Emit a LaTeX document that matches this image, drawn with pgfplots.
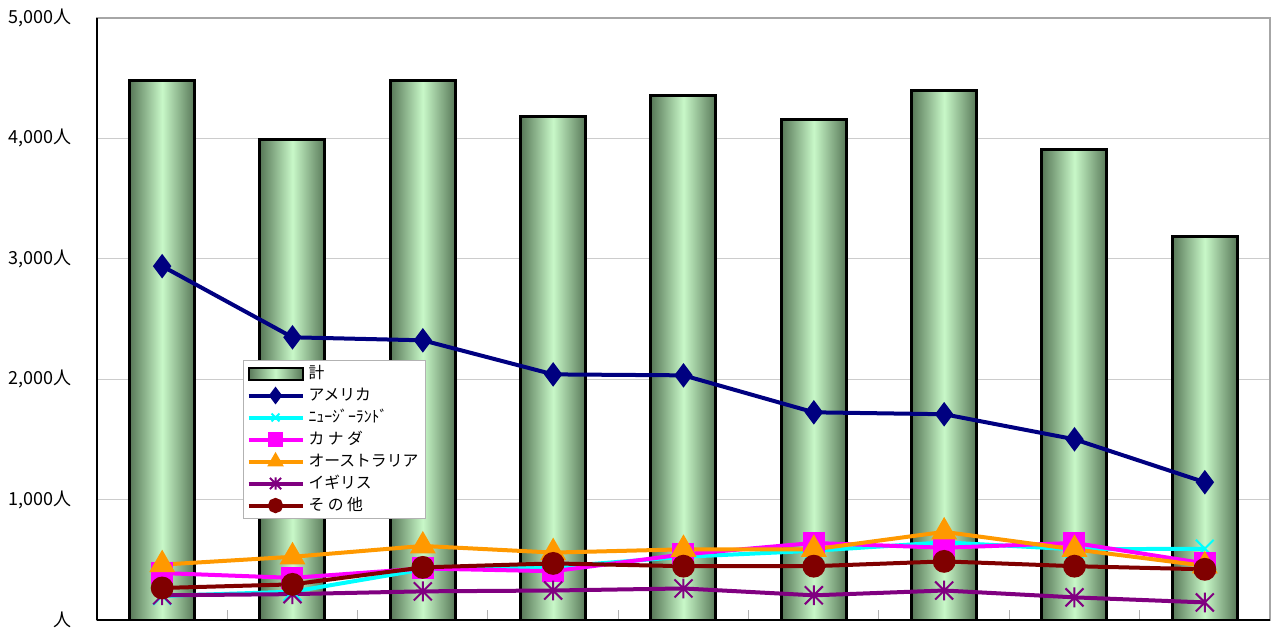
\documentclass[border=0pt]{standalone}
\usepackage{fontspec}
\setmainfont{Noto Sans CJK JP}
\usepackage{pgfplots}
\pgfplotsset{compat=1.18}
\definecolor{bedge}{HTML}{587858}
\definecolor{bmid}{HTML}{C8F8C8}
\definecolor{cnavy}{HTML}{000080}
\definecolor{ccyan}{HTML}{00FFFF}
\definecolor{cmag}{HTML}{FF00FF}
\definecolor{corange}{HTML}{FF9900}
\definecolor{cpurple}{HTML}{800080}
\definecolor{cdred}{HTML}{800000}
\pgfdeclareplotmark{xast}{%
  \pgfpathmoveto{\pgfqpoint{-\pgfplotmarksize}{-\pgfplotmarksize}}%
  \pgfpathlineto{\pgfqpoint{\pgfplotmarksize}{\pgfplotmarksize}}%
  \pgfpathmoveto{\pgfqpoint{-\pgfplotmarksize}{\pgfplotmarksize}}%
  \pgfpathlineto{\pgfqpoint{\pgfplotmarksize}{-\pgfplotmarksize}}%
  \pgfpathmoveto{\pgfqpoint{0pt}{-1.1\pgfplotmarksize}}%
  \pgfpathlineto{\pgfqpoint{0pt}{1.1\pgfplotmarksize}}%
  \pgfusepathqstroke}
\pgfplotsset{
  gbar/.style={ybar, bar width=32.5pt, bar shift=0pt, draw=black, line width=1.5pt,
    left color=bedge, right color=bedge, middle color=bmid},
}
\begin{document}
\begin{tikzpicture}
\useasboundingbox (-48.5pt,-4pt) rectangle (588.5pt,310pt);
\clip (-48.5pt,-4pt) rectangle (588.5pt,310pt);
\begin{axis}[
  scale only axis, width=586.5pt, height=301pt,
  xmin=-0.5, xmax=8.5, ymin=0, ymax=5000,
  xtick={0.5,1.5,...,7.5}, xticklabels={}, xtick pos=bottom,
  tick align=inside, major tick length=5pt,
  xtick style={draw=gray!60, line width=0.5pt},
  ytick={0,1000,2000,3000,4000,5000},
  yticklabels={人,{1,000人},{2,000人},{3,000人},{4,000人},{5,000人}},
  ytick style={draw=none},
  yticklabel style={font=\fontsize{9pt}{11pt}\selectfont, anchor=east, xshift=-9pt},
  ymajorgrids, grid style={draw=gray!40, line width=0.6pt},
  axis line style={draw=gray!70, line width=0.6pt},
  legend style={at={(0.1245,0.432)}, anchor=north west, draw=gray!60, line width=0.5pt,
    font=\fontsize{7.9pt}{9pt}\selectfont, row sep=0.9pt, inner sep=1.5pt,
    nodes={inner ysep=1pt, text height=6.6pt, text depth=1.5pt},
    /tikz/every even column/.append style={column sep=1pt}},
  legend cell align=left,
  legend image code/.code={\draw[mark repeat=2,mark phase=2] plot coordinates {(0pt,0pt) (13.5pt,0pt) (27pt,0pt)};},
  legend image post style={mark size=2.8pt},
  every axis plot/.append style={line width=2pt},
  after end axis/.code={
    \draw[black, line width=1pt] (rel axis cs:0,0) -- (rel axis cs:0,1);
    \draw[black, line width=1pt] (rel axis cs:0,0) -- (rel axis cs:1,0);
  },
]
\addplot[gbar,
  legend image code/.code={\draw[left color=bedge, right color=bedge, middle color=bmid, draw=black, line width=1pt] (0pt,-3pt) rectangle (27pt,3pt);}]
  coordinates {(0,4485)};
\addlegendentry{計}
\addplot[gbar, forget plot] coordinates {(1,3995)};
\addplot[gbar, forget plot] coordinates {(2,4477)};
\addplot[gbar, forget plot] coordinates {(3,4186)};
\addplot[gbar, forget plot] coordinates {(4,4360)};
\addplot[gbar, forget plot] coordinates {(5,4161)};
\addplot[gbar, forget plot] coordinates {(6,4402)};
\addplot[gbar, forget plot] coordinates {(7,3911)};
\addplot[gbar, forget plot] coordinates {(8,3189)};
\addplot[cnavy, mark=diamond*, mark size=4.5pt, mark options={solid}]
  coordinates {(0,2939) (1,2348) (2,2323) (3,2040) (4,2032) (5,1725) (6,1709) (7,1501) (8,1144)};
\addlegendentry{アメリカ}
\addplot[ccyan, mark=x, mark size=6.3pt, mark options={line width=1pt}]
  coordinates {(0,200) (1,235) (2,420) (3,440) (4,525) (5,575) (6,645) (7,587) (8,592)};
\addlegendentry{ﾆｭｰｼﾞｰﾗﾝﾄﾞ}
\addplot[cmag, mark=square*, mark size=4.5pt]
  coordinates {(0,390) (1,350) (2,428) (3,405) (4,545) (5,640) (6,600) (7,640) (8,470)};
\addlegendentry{カ ナ ダ}
\addplot[corange, mark=triangle*, mark size=5.5pt]
  coordinates {(0,460) (1,525) (2,615) (3,560) (4,587) (5,587) (6,732) (7,587) (8,450)};
\addlegendentry{オーストラリア}
\addplot[cpurple, mark=xast, mark size=4.5pt, mark options={line width=1pt}]
  coordinates {(0,205) (1,215) (2,238) (3,245) (4,262) (5,205) (6,245) (7,188) (8,146)};
\addlegendentry{イギリス}
\addplot[cdred, mark=*, mark size=4.7pt]
  coordinates {(0,266) (1,296) (2,437) (3,470) (4,447) (5,447) (6,487) (7,447) (8,421)};
\addlegendentry{そ の 他}
\end{axis}
\end{tikzpicture}
\end{document}
